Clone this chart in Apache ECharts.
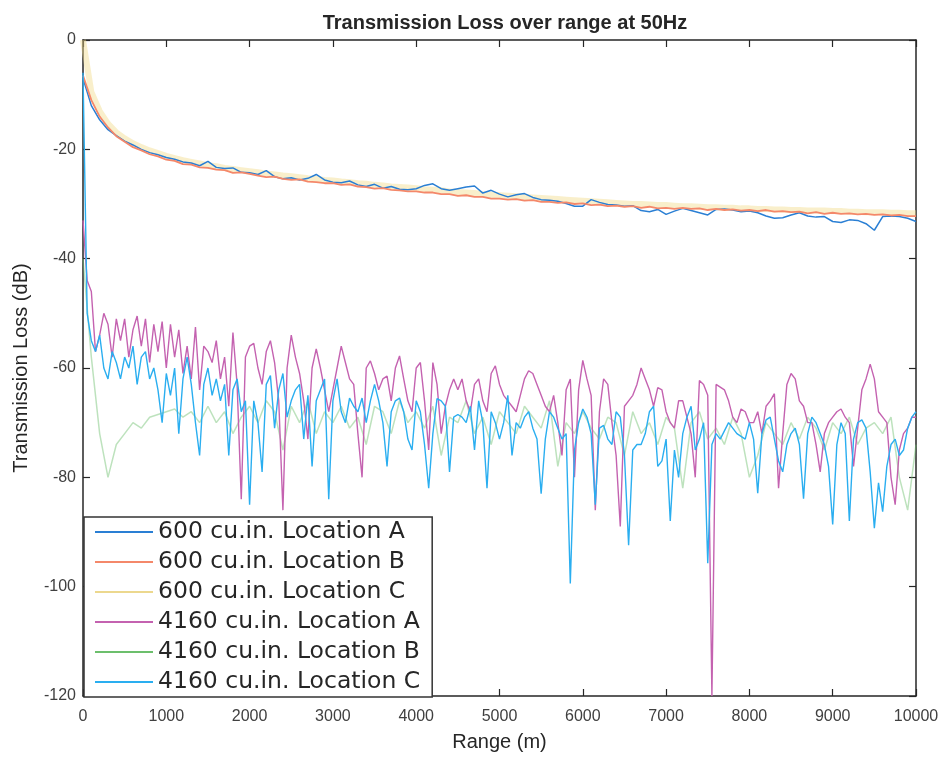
<!DOCTYPE html>
<html>
<head>
<meta charset="utf-8">
<title>Transmission Loss over range at 50Hz</title>
<script src="https://cdn.jsdelivr.net/npm/echarts@6/dist/echarts.min.js"></script>
<style>
  html, body { margin: 0; padding: 0; background: #ffffff; }
  #chart { width: 945px; height: 757px; }
</style>
</head>
<body>
<div id="chart"></div>
<script>
// Sampling steps of the range grids (m)
const STEP_FINE = 50;     // 4160 cu.in. Location A / C
const STEP_COARSE = 100;  // 600 cu.in. series and 4160 cu.in. Location B

const seriesNames = [
  '600 cu.in. Location A',
  '600 cu.in. Location B',
  '600 cu.in. Location C',
  '4160 cu.in. Location A',
  '4160 cu.in. Location B',
  '4160 cu.in. Location C'
];

const xTicks = [0, 1000, 2000, 3000, 4000, 5000, 6000, 7000, 8000, 9000, 10000];
const yTicks = [0, -20, -40, -60, -80, -100, -120];

// Transmission loss (dB), 100 m steps
const tl600A = [
  -7, -12, -14.6, -16.4, -17.5, -18.5, -19.2, -20, -20.6, -21, -21.5,
  -21.8, -22.3, -22.5, -23, -22.2, -23.3, -23.5, -23.4, -24.2, -24.3,
  -24.6, -23.9, -25, -25.4, -25.2, -25.6, -25.3, -24.6, -25.6, -26,
  -26.1, -25.8, -26.5, -26.8, -26.4, -27.1, -26.8, -27.3, -27.4, -27.2,
  -26.6, -26.3, -27.2, -27.5, -27.2, -26.9, -26.7, -28, -27.5, -28.2,
  -28.7, -28.3, -28.1, -28.8, -29.2, -29.3, -29.5, -29.9, -30.4, -30.4,
  -29.2, -29.7, -30.1, -30.2, -30.4, -30.3, -31.2, -31.4, -31, -31.9,
  -31.3, -30.8, -31.2, -31.6, -32, -31, -30.9, -31.1, -31.4, -31.3,
  -31.6, -32.2, -32.6, -32.5, -32, -31.6, -32.2, -32.4, -32.3, -33.2,
  -33.4, -32.9, -33, -33.6, -34.8, -32.3, -32.2, -32.3, -32.6, -33.2
];

const tl600B = [
  -6.5, -11, -14, -16, -17.6, -18.6, -19.6, -20.2, -20.9, -21.3, -21.9,
  -22.1, -22.7, -22.8, -23.3, -23.4, -23.7, -23.8, -24.3, -24.2, -24.5,
  -24.8, -25.1, -25.0, -25.4, -25.6, -25.5, -25.9, -26.0, -26.2, -26.2,
  -26.5, -26.4, -26.8, -26.9, -27.2, -27.1, -27.4, -27.5, -27.7, -27.7,
  -27.9, -27.9, -28.2, -28.2, -28.5, -28.4, -28.7, -28.7, -29.0, -29.0,
  -29.2, -29.1, -29.4, -29.3, -29.6, -29.6, -29.8, -29.7, -30.0, -29.9,
  -30.2, -30.1, -30.4, -30.3, -30.5, -30.4, -30.7, -30.5, -30.8, -30.7,
  -30.9, -30.7, -30.9, -30.8, -31.1, -30.9, -31.1, -31.0, -31.2, -31.1,
  -31.3, -31.1, -31.4, -31.3, -31.5, -31.4, -31.7, -31.5, -31.8, -31.6,
  -31.8, -31.7, -31.9, -31.8, -32.0, -31.9, -32.1, -32.0, -32.2, -32.2
];

const tl600C = [
  0, -9.5, -13, -15.3, -16.9, -18, -18.9, -19.6, -20.2, -20.7, -21.2,
  -21.6, -22, -22.3, -22.6, -22.9, -23.1, -23.4, -23.6, -23.8, -24,
  -24.2, -24.4, -24.6, -24.8, -24.9, -25.1, -25.3, -25.4, -25.6, -25.7,
  -25.9, -26, -26.2, -26.3, -26.5, -26.6, -26.8, -26.9, -27, -27.1,
  -27.3, -27.4, -27.5, -27.7, -27.8, -27.9, -28, -28.2, -28.3, -28.4,
  -28.5, -28.6, -28.7, -28.8, -28.9, -29, -29.1, -29.2, -29.3, -29.4,
  -29.5, -29.6, -29.7, -29.8, -29.9, -30, -30, -30.1, -30.2, -30.2,
  -30.3, -30.4, -30.4, -30.5, -30.6, -30.6, -30.7, -30.7, -30.8, -30.8,
  -30.9, -30.9, -31, -31, -31.1, -31.1, -31.2, -31.2, -31.2, -31.3,
  -31.3, -31.4, -31.4, -31.5, -31.5, -31.5, -31.6, -31.6, -31.7, -31.7
];

const tl4160B = [
  -40, -58, -72, -80, -74, -72, -70, -71, -69, -68.5, -68,
  -67.5, -69, -68, -70, -67, -70, -68, -72, -69, -67,
  -70, -66, -68, -75, -67, -70, -66, -72, -68, -70,
  -67, -71, -69, -74, -67, -68, -72, -66, -70, -68,
  -71, -67, -76, -69, -70, -66, -72, -69, -74, -68,
  -70, -72, -67, -69, -71, -66, -78, -70, -72, -68,
  -71, -73, -69, -70, -76, -68, -72, -70, -74, -69,
  -71, -82, -70, -68, -73, -71, -74, -69, -72, -80,
  -76, -70, -72, -74, -70, -73, -69, -71, -75, -70,
  -72, -69, -74, -71, -70, -72, -69, -80, -86, -74
];

// Transmission loss (dB), 50 m steps
const tl4160A = [
  -33, -44, -46, -57, -54, -50, -52, -58, -51, -55,
  -51, -58, -53, -50.5, -56, -51, -59, -52, -57, -51.5,
  -60, -52, -58, -53, -61, -56, -62, -52.5, -64, -56,
  -57, -59, -55, -62, -58, -67, -53.5, -63, -84, -58,
  -56,
  -55.5, -60, -63, -57, -55, -59, -66, -86, -60, -54,
  -58, -61, -66, -73, -60, -56.5, -60, -64, -68, -64,
  -60, -56, -59, -62, -63, -72, -80, -60, -58.7, -61,
  -64, -62, -61.5, -66, -60, -57.8, -62, -66, -68, -60,
  -59, -66, -75, -59, -63, -72, -67, -64, -62, -64,
  -62, -66, -68, -63, -62, -66, -68, -61, -59.6, -63,
  -65, -66, -67, -68, -65, -62, -60.5, -61, -63, -65,
  -67, -68, -65, -70, -76, -64, -62, -80, -64, -58.6,
  -62, -65, -86, -68, -62, -63, -70, -76, -89, -67,
  -66, -65, -63, -60, -62, -64, -67, -63.6, -64, -68,
  -70, -71, -66, -66, -69, -72, -80, -62.3, -63, -65,
  -120, -63, -63.5, -64, -66, -69, -70, -67.5, -68, -70,
  -70, -68, -72, -67, -66, -64.7, -82, -72, -63, -61,
  -62, -66, -67, -70, -70, -74, -79, -72, -70, -69,
  -68, -67.5, -69, -70, -78, -71, -64, -62, -59.3, -62,
  -68, -69, -70, -80, -85, -75, -72, -71, -69, -69
];

const tl4160C = [
  -6, -50, -55, -57, -54, -60, -62, -57, -59, -62,
  -58, -60, -56, -63, -58, -57, -62, -60, -64, -70,
  -61, -65, -60, -72, -62, -58, -63, -70, -76, -63,
  -60, -65, -62, -66, -63, -76, -64, -62, -68, -66,
  -85,
  -66, -70, -79, -63, -61.4, -71, -64, -61, -69, -66,
  -64, -63, -73, -65, -78, -66, -64, -62, -84, -66,
  -62, -68, -70, -65.5, -67, -68, -65.5, -70, -66, -63,
  -66, -70, -78, -68, -66, -65.5, -68, -73, -75, -66,
  -68, -74, -82, -72, -65.6, -66, -67, -79, -69, -68.5,
  -69, -70, -67, -75, -66, -70, -82, -68, -70, -73,
  -70, -65, -76, -70, -71, -69, -68, -71, -73, -83,
  -73, -68, -69, -71, -73, -72, -99.4, -75, -70, -67.5,
  -69, -72, -85, -71, -70.5, -73, -74, -68, -69, -76,
  -92.4, -75, -74, -74, -72, -68, -67, -78, -77, -73,
  -88, -75, -80, -72, -69, -67, -75, -73, -70, -95.7,
  -74, -72, -73, -71.5, -70, -71, -72, -72.5, -73, -70,
  -73, -82.9, -72, -69.5, -69, -73, -77, -79, -74, -72,
  -71, -74, -83.9, -72, -69, -70, -72, -74, -78, -88.6,
  -74, -70, -72, -88, -73, -70, -69.5, -71, -79, -89.3,
  -81, -86.3, -78, -74, -73, -76, -75, -71, -69, -68
];

// Pair each value with its range on the sampling grid
function toPoints(values, step) {
  return values.map((v, i) => [i * step, v]);
}

const AXIS_COLOR = '#262626';
const LABEL_FONT = 'Liberation Sans, Arial, sans-serif';

const chart = echarts.init(document.getElementById('chart'), null, { renderer: 'canvas' });

function lineSeries(name, values, step, color, width, opacity) {
  return {
    name: name,
    type: 'line',
    data: toPoints(values, step),
    symbol: 'none',
    showSymbol: false,
    silent: true,
    animation: false,
    clip: true,
    lineStyle: { color: color, width: width, opacity: opacity },
    itemStyle: { color: color },
    emphasis: { disabled: true }
  };
}

const baseAxis = {
  type: 'value',
  axisLine: { show: true, onZero: false, lineStyle: { color: AXIS_COLOR, width: 1.5 } },
  axisTick: { show: true, inside: true, length: 7, lineStyle: { color: AXIS_COLOR, width: 1.2 } },
  splitLine: { show: false }
};

// Legend swatches: a thin bar in each series colour
const legendColors = ['#2a7fd4', '#f4886a', '#ecd88e', '#c462b0', '#6cbf6c', '#2aaef0'];

const option = {
  backgroundColor: '#ffffff',
  animation: false,
  title: {
    text: 'Transmission Loss over range at 50Hz',
    left: 500,
    top: 8,
    textAlign: 'center',
    textStyle: { fontFamily: LABEL_FONT, fontSize: 20, fontWeight: 'bold', color: '#262626' }
  },
  grid: { left: 83, right: 29, top: 40, bottom: 59, containLabel: false },
  legend: {
    orient: 'vertical',
    left: 84,
    top: 517,
    padding: [2, 12, 2, 11],
    icon: 'rect',
    itemWidth: 58,
    itemHeight: 2,
    itemGap: 4,
    backgroundColor: '#ffffff',
    borderColor: '#333333',
    borderWidth: 1.5,
    selectedMode: false,
    textStyle: { fontFamily: 'DejaVu Sans, sans-serif', fontSize: 23.5, color: '#262626', lineHeight: 26 },
    data: seriesNames.map((n, i) => ({
      name: n,
      icon: 'rect',
      itemStyle: { color: legendColors[i], opacity: 1, borderWidth: 0 }
    }))
  },
  xAxis: [
    Object.assign({}, baseAxis, {
      position: 'bottom',
      min: xTicks[0],
      max: xTicks[xTicks.length - 1],
      interval: xTicks[1] - xTicks[0],
      name: 'Range (m)',
      nameLocation: 'middle',
      nameGap: 36,
      nameTextStyle: { fontFamily: LABEL_FONT, fontSize: 20, color: '#262626' },
      axisLabel: {
        margin: 13,
        fontFamily: LABEL_FONT,
        fontSize: 16,
        color: '#404040',
        formatter: v => String(v)
      }
    }),
    Object.assign({}, baseAxis, {
      position: 'top',
      min: xTicks[0],
      max: xTicks[xTicks.length - 1],
      interval: xTicks[1] - xTicks[0],
      axisLabel: { show: false }
    })
  ],
  yAxis: [
    Object.assign({}, baseAxis, {
      position: 'left',
      min: yTicks[yTicks.length - 1],
      max: yTicks[0],
      interval: yTicks[0] - yTicks[1],
      name: 'Transmission Loss (dB)',
      nameLocation: 'middle',
      nameGap: 52,
      nameRotate: 90,
      nameTextStyle: { fontFamily: LABEL_FONT, fontSize: 20, color: '#262626' },
      axisLabel: {
        margin: 7,
        fontFamily: LABEL_FONT,
        fontSize: 16,
        color: '#404040',
        formatter: v => String(v)
      }
    }),
    Object.assign({}, baseAxis, {
      position: 'right',
      min: yTicks[yTicks.length - 1],
      max: yTicks[0],
      interval: yTicks[0] - yTicks[1],
      axisLabel: { show: false }
    })
  ],
  series: [
    lineSeries(seriesNames[2], tl600C, STEP_COARSE, '#f2dc8c', 6, 0.45),
    lineSeries(seriesNames[0], tl600A, STEP_COARSE, '#2a7fd4', 1.5, 1),
    lineSeries(seriesNames[1], tl600B, STEP_COARSE, '#f4886a', 1.8, 1),
    lineSeries(seriesNames[4], tl4160B, STEP_COARSE, '#6cbf6c', 1.5, 0.45),
    lineSeries(seriesNames[3], tl4160A, STEP_FINE, '#c462b0', 1.4, 1),
    lineSeries(seriesNames[5], tl4160C, STEP_FINE, '#2aaef0', 1.4, 1)
  ]
};

chart.setOption(option);
</script>
</body>
</html>
